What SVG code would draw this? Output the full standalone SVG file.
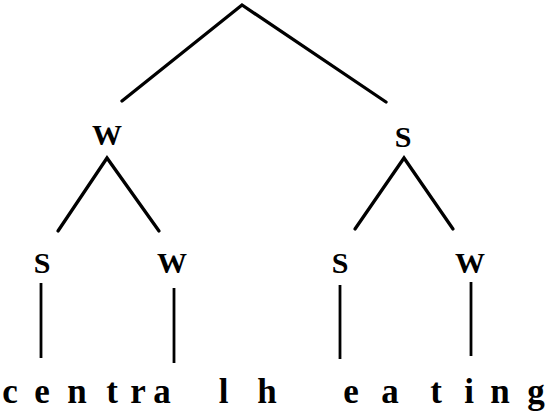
<svg xmlns="http://www.w3.org/2000/svg" width="546" height="417" viewBox="0 0 546 417">
<style>
.lbl{font-family:"Liberation Serif","Times New Roman",serif;font-weight:bold;font-size:30px;fill:#000;text-anchor:middle}
.seg{font-family:"Liberation Serif","Times New Roman",serif;font-weight:bold;font-size:35px;fill:#000;text-anchor:middle}
.br{stroke:#000;stroke-width:3.3;fill:none;stroke-linecap:round;stroke-linejoin:miter}
.vt{stroke:#000;stroke-width:2.8;fill:none}
</style>
<rect width="546" height="417" fill="#fff"/>
<g id="connectors">
<path class="br" d="M122,101 L242,5 L386,102"/>
<path class="br" d="M58,231 L107,158 L159,231"/>
<path class="br" d="M355,229 L404,158 L453,229"/>
<line class="vt" x1="41" y1="283" x2="41" y2="358"/>
<line class="vt" x1="174" y1="288" x2="174" y2="363"/>
<line class="vt" x1="340" y1="285" x2="340" y2="359"/>
<line class="vt" x1="471" y1="282" x2="471" y2="356"/>
</g>
<g id="node-root"></g>
<g id="node-W1"><text class="lbl" x="107" y="145">W</text></g>
<g id="node-S1"><text class="lbl" x="403" y="147">S</text></g>
<g id="node-S2"><text class="lbl" x="42" y="273">S</text></g>
<g id="node-W2"><text class="lbl" x="172" y="273">W</text></g>
<g id="node-S3"><text class="lbl" x="340" y="273">S</text></g>
<g id="node-W3"><text class="lbl" x="470" y="273">W</text></g>
<g id="word">
<text class="seg" y="403"><tspan x="10">c</tspan><tspan x="42">e</tspan><tspan x="77">n</tspan><tspan x="112">t</tspan><tspan x="138">r</tspan><tspan x="162">a</tspan><tspan x="228">l</tspan> <tspan x="267">h</tspan><tspan x="351">e</tspan><tspan x="390">a</tspan><tspan x="436">t</tspan><tspan x="469">i</tspan><tspan x="500">n</tspan><tspan x="536">g</tspan></text>
</g>
</svg>
